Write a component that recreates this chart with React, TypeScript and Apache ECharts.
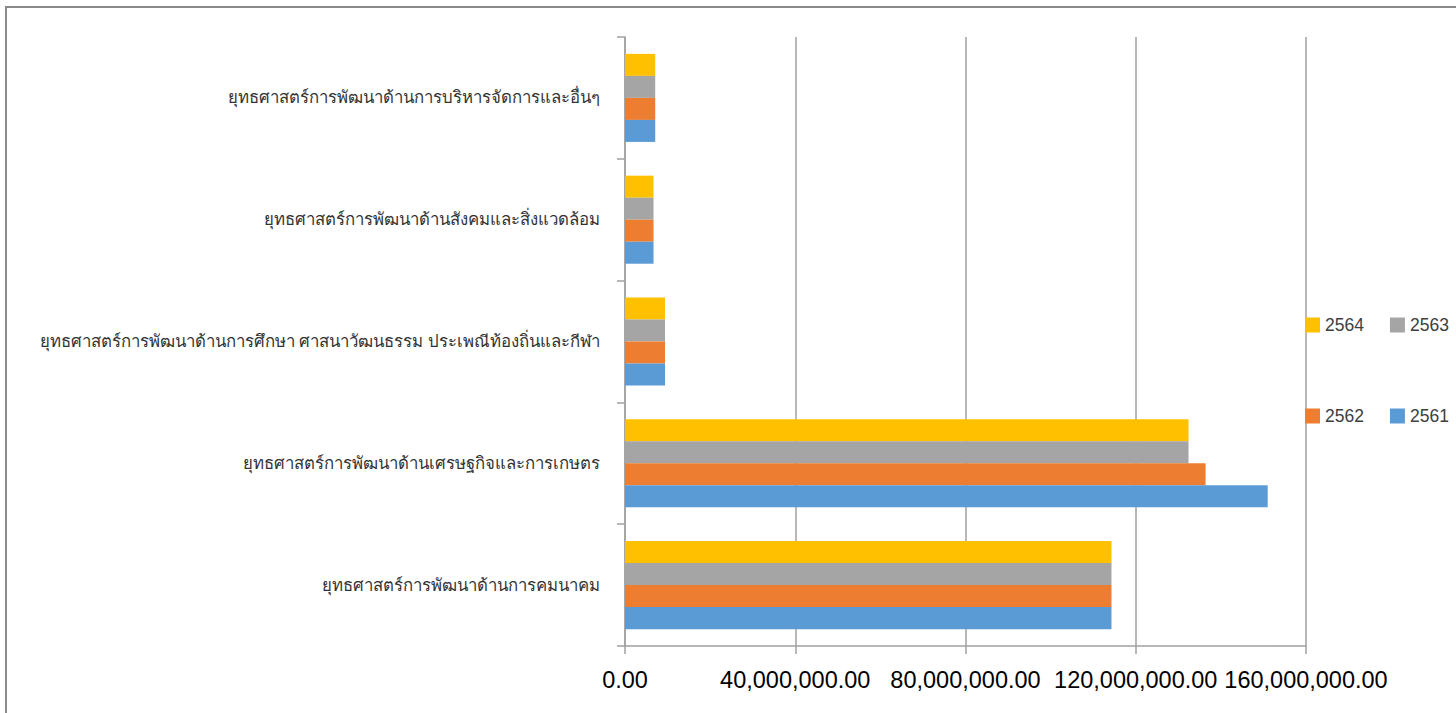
import React, { useEffect, useRef } from "react";
import * as echarts from "echarts";

const categories = [
  "ยุทธศาสตร์การพัฒนาด้านการคมนาคม",
  "ยุทธศาสตร์การพัฒนาด้านเศรษฐกิจและการเกษตร",
  "ยุทธศาสตร์การพัฒนาด้านการศึกษา ศาสนาวัฒนธรรม ประเพณีท้องถิ่นและกีฬา",
  "ยุทธศาสตร์การพัฒนาด้านสังคมและสิ่งแวดล้อม",
  "ยุทธศาสตร์การพัฒนาด้านการบริหารจัดการและอื่นๆ",
];

// drawn top-to-bottom within each category: 2564, 2563, 2562, 2561
const seriesNames = ["2564", "2563", "2562", "2561"];
const colors = ["#FFC000", "#A5A5A5", "#ED7D31", "#5B9BD5"];

const values2561 = [114300000, 151000000, 9400000, 6700000, 7100000];
const values2562 = [114300000, 136400000, 9400000, 6700000, 7100000];
const values2563 = [114300000, 132400000, 9400000, 6700000, 7100000];
const values2564 = [114300000, 132400000, 9400000, 6700000, 7100000];

const seriesValues = [values2564, values2563, values2562, values2561];

const xTicks = { min: 0, max: 160000000, interval: 40000000 };

export default function App() {
  const ref = useRef<HTMLDivElement>(null);

  useEffect(() => {
    if (!ref.current) return;
    const chart = echarts.init(ref.current, null, { renderer: "svg" });
    const fmt = (v: number) =>
      v.toLocaleString("en-US", { minimumFractionDigits: 2, maximumFractionDigits: 2 });
    chart.setOption({
      animation: false,
      backgroundColor: "#ffffff",
      color: colors,
      textStyle: { fontFamily: "Liberation Sans, Arial, sans-serif" },
      graphic: [
        {
          type: "rect",
          shape: { x: 6, y: 7, width: 1470, height: 730 },
          style: { fill: "none", stroke: "#8a8a8a", lineWidth: 2 },
          silent: true,
        },
      ],
      legend: [
        {
          data: ["2564", "2563"],
          left: 1305,
          top: 316,
          padding: 0,
          itemWidth: 15,
          itemHeight: 15,
          itemGap: 26,
          icon: "rect",
          textStyle: { fontSize: 17.5, color: "#404040" },
        },
        {
          data: ["2562", "2561"],
          left: 1305,
          top: 407,
          padding: 0,
          itemWidth: 15,
          itemHeight: 15,
          itemGap: 26,
          icon: "rect",
          textStyle: { fontSize: 17.5, color: "#404040" },
        },
      ],
      grid: { left: 625, right: 150, top: 37, bottom: 67 },
      xAxis: {
        type: "value",
        min: xTicks.min,
        max: xTicks.max,
        interval: xTicks.interval,
        axisLine: { show: true, lineStyle: { color: "#a0a0a0", width: 1.5 } },
        axisTick: { show: true, length: 8, lineStyle: { color: "#a0a0a0", width: 1.5 } },
        splitLine: { show: true, lineStyle: { color: "#a0a0a0", width: 1.5 } },
        axisLabel: {
          fontSize: 23.5,
          color: "#000000",
          margin: 22,
          formatter: (v: number) => fmt(v),
        },
      },
      yAxis: {
        type: "category",
        data: categories,
        axisLine: { show: true, lineStyle: { color: "#a0a0a0", width: 1.5 } },
        axisTick: { show: true, length: 8, lineStyle: { color: "#a0a0a0", width: 1.5 } },
        axisLabel: { fontSize: 16.8, color: "#333333", margin: 25 },
      },
      series: seriesNames.map((name, i) => ({
        name,
        type: "bar",
        data: seriesValues[i],
        barGap: "0%",
        barCategoryGap: "27.7%",
        itemStyle: { color: colors[i] },
      })),
    });
    return () => chart.dispose();
  }, []);

  return (
    <div
      ref={ref}
      style={{ position: "absolute", left: 0, top: 0, width: 1456, height: 713 }}
    />
  );
}
